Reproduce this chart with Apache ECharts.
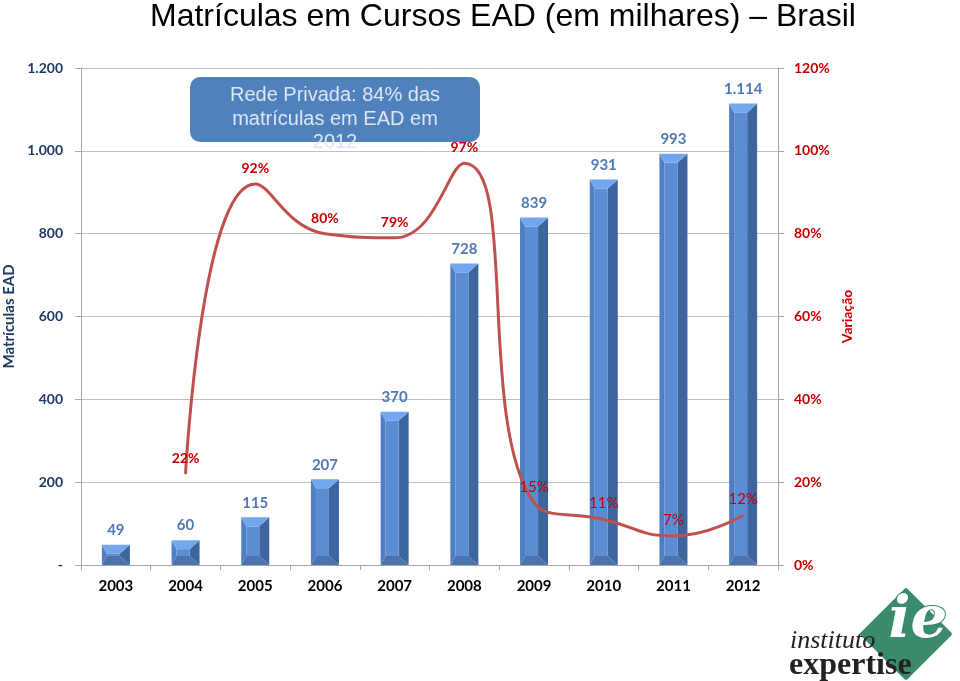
<!DOCTYPE html>
<html>
<head>
<meta charset="utf-8">
<script src="https://cdn.jsdelivr.net/npm/echarts@6/dist/echarts.min.js"></script>
<style>html,body{margin:0;padding:0;background:#fff}#c{width:960px;height:681px}</style>
</head>
<body>
<div id="c"></div>
<script>
var years = ['2003','2004','2005','2006','2007','2008','2009','2010','2011','2012'];
var enrollments = [49, 60, 115, 207, 370, 728, 839, 931, 993, 1114];
var variation = [null, 22, 92, 80, 79, 97, 15, 11, 7, 12];
var leftTicks = [0, 200, 400, 600, 800, 1000, 1200];
var rightTicks = [0, 20, 40, 60, 80, 100, 120];

function fmtThousands(v) {
  return String(v).replace(/\B(?=(\d{3})+(?!\d))/g, '.');
}

var chart = echarts.init(document.getElementById('c'));
var FONT = 'Lato, "Liberation Sans", sans-serif';

function renderBar(params, api) {
  var top = api.coord([api.value(0), api.value(1)]);
  var bot = api.coord([api.value(0), 0]);
  var w = 28;
  var x0 = top[0] - w / 2, x1 = top[0] + w / 2;
  var y = top[1], y0 = bot[1];
  var h = y0 - y;
  var b = Math.min(9, h / 2);
  var bl = Math.min(5, b), br = Math.min(10, b + 1);
  var children = [
    {type: 'polygon', shape: {points: [[x0, y], [x0 + bl, y + b], [x0 + bl, y0 - b], [x0, y0]]}, style: {fill: '#4f7fc2'}},
    {type: 'polygon', shape: {points: [[x1, y], [x1 - br, y + b], [x1 - br, y0 - b], [x1, y0]]}, style: {fill: '#3d659e'}},
    {type: 'rect', shape: {x: x0 + bl, y: y + b, width: Math.max(0, w - bl - br), height: Math.max(0, h - 2 * b)}, style: {fill: '#5b8dd3'}},
    {type: 'polygon', shape: {points: [[x0, y], [x1, y], [x1 - br, y + b], [x0 + bl, y + b]]}, style: {fill: '#72a6ee'}},
    {type: 'polygon', shape: {points: [[x0, y0], [x0 + bl, y0 - b], [x1 - br, y0 - b], [x1, y0]]}, style: {fill: '#4a72ad'}},
    {type: 'text', style: {text: fmtThousands(api.value(1)), x: top[0], y: y - 7, align: 'center', verticalAlign: 'bottom', fill: '#4f79b5', font: 'bold 15px ' + FONT}}
  ];
  return {type: 'group', children: children};
}

var lineData = variation.map(function (v, i) {
  return {value: v, label: {fontWeight: i >= 6 ? 'normal' : 'bold', fontSize: i >= 6 ? 15 : 14}};
});

chart.setOption({
  animation: false,
  title: {
    text: 'Matrículas em Cursos EAD (em milhares) – Brasil',
    left: 145, top: -4,
    textStyle: {fontFamily: '"Liberation Sans", Arial, sans-serif', fontWeight: 'normal', fontSize: 32, color: '#000'}
  },
  grid: {left: 81, right: 182, top: 68, bottom: 116, outerBoundsMode: 'none', containLabel: false},
  xAxis: {
    type: 'category', data: years, boundaryGap: true,
    axisLine: {lineStyle: {color: '#a6a6a6'}},
    axisTick: {show: true, interval: 0, length: 5, lineStyle: {color: '#a6a6a6'}},
    axisLabel: {color: '#000', fontWeight: 'bold', fontSize: 15, fontFamily: FONT, margin: 14}
  },
  yAxis: [
    {
      type: 'value', min: 0, max: 1200, interval: 200,
      name: 'Matrículas EAD', nameLocation: 'middle', nameGap: 64, nameRotate: 90,
      nameTextStyle: {color: '#1f3864', fontWeight: 'bold', fontSize: 15, fontFamily: FONT},
      axisLine: {show: true, lineStyle: {color: '#a6a6a6'}},
      axisTick: {show: true, length: 6, lineStyle: {color: '#a6a6a6'}},
      splitLine: {lineStyle: {color: '#bfbfbf'}},
      axisLabel: {color: '#1f3864', fontWeight: 'bold', fontSize: 14, fontFamily: FONT, margin: 18,
        formatter: function (v) { return v === 0 ? '-' : fmtThousands(v); }}
    },
    {
      type: 'value', min: 0, max: 120, interval: 20, position: 'right',
      name: 'Variação', nameLocation: 'middle', nameGap: 60, nameRotate: 90,
      nameTextStyle: {color: '#c00000', fontWeight: 'bold', fontSize: 14, fontFamily: FONT},
      axisLine: {show: true, lineStyle: {color: '#a6a6a6'}},
      axisTick: {show: true, length: 6, lineStyle: {color: '#a6a6a6'}},
      splitLine: {show: false},
      axisLabel: {color: '#c00000', fontWeight: 'bold', fontSize: 14, fontFamily: FONT, margin: 16,
        formatter: '{value}%'}
    }
  ],
  series: [
    {
      type: 'custom', name: 'Matrículas', yAxisIndex: 0,
      data: enrollments.map(function (v, i) { return [i, v]; }),
      encode: {x: 0, y: 1},
      renderItem: renderBar, z: 2
    },
    {
      type: 'line', name: 'Variação', yAxisIndex: 1, data: lineData,
      smooth: 0.5, showSymbol: true, symbol: 'circle', symbolSize: 1,
      itemStyle: {color: '#c0504d'},
      lineStyle: {color: '#c0504d', width: 3},
      label: {show: true, position: 'top', distance: 8, color: '#c00000', fontFamily: FONT,
        formatter: '{c}%'},
      z: 5
    }
  ],
  graphic: [
    {type: 'rect', shape: {x: 190, y: 77, width: 290, height: 65, r: 10}, style: {fill: '#4f81bd'}, z: 10},
    {type: 'text', x: 335, y: 84, z: 11, style: {text: 'Rede Privada: 84% das\nmatrículas em EAD em\n2012', align: 'center', verticalAlign: 'top', fill: '#dce6f2', font: '20px "Liberation Sans", Arial, sans-serif', lineHeight: 23.5}},
    {type: 'rect', x: 906, y: 634, rotation: Math.PI / 4, shape: {x: -33, y: -33, width: 66, height: 66, r: 2}, style: {fill: '#3a8a6c'}, z: 10},
    {type: 'text', x: 918, y: 622, z: 11, style: {text: 'ie', align: 'center', verticalAlign: 'middle', fill: '#fff', font: 'italic bold 58px "DejaVu Serif", serif', stroke: '#3a8a6c', lineWidth: 2}},
    {type: 'text', x: 790, y: 641, z: 12, style: {text: 'instituto', align: 'left', verticalAlign: 'middle', fill: '#222', font: 'italic 26px "Liberation Serif", serif'}},
    {type: 'text', x: 789, y: 666, z: 12, style: {text: 'expertise', align: 'left', verticalAlign: 'middle', fill: '#222', font: 'bold 32px "Liberation Serif", serif'}}
  ]
});
</script>
</body>
</html>
